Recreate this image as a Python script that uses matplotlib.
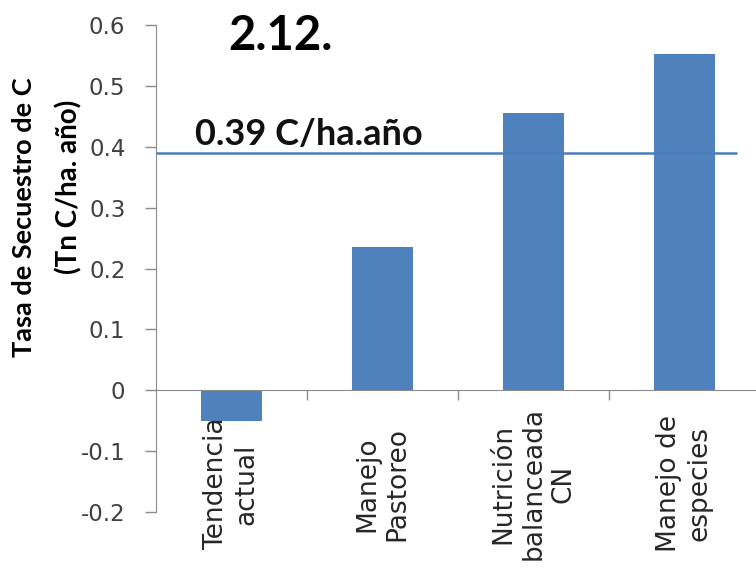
import matplotlib
matplotlib.use("Agg")
import matplotlib.pyplot as plt

# sequestration rate per management scenario (Tn C/ha. año)
categories = ["Tendencia\nactual", "Manejo\nPastoreo", "Nutrición\nbalanceada\nCN", "Manejo de\nespecies"]
values = [-0.05, 0.236, 0.456, 0.553]
benchmark = 0.39
yticks = [-0.2, -0.1, 0, 0.1, 0.2, 0.3, 0.4, 0.5, 0.6]
yticklabels = ["-0.2", "-0.1", "0", "0.1", "0.2", "0.3", "0.4", "0.5", "0.6"]

bar_color = "#4f81bd"
axis_gray = "#8c8c8c"

fig = plt.figure(figsize=(7.56, 5.70), dpi=100)
W, H = 756, 570
ax = fig.add_axes([156 / W, 1 - 512 / H, 600 / W, 487 / H])

x = list(range(len(categories)))
ax.bar(x, values, width=0.4, color=bar_color, zorder=2)

ax.set_xlim(-0.5, -0.5 + 600 / 151)
ax.set_ylim(-0.2, 0.6)

for side in ["top", "right"]:
    ax.spines[side].set_visible(False)
ax.spines["bottom"].set_position(("data", 0))
ax.spines["bottom"].set_color(axis_gray)
ax.spines["left"].set_color(axis_gray)

ax.set_yticks(yticks)
ax.set_yticklabels(yticklabels, fontfamily="DejaVu Sans")
ax.tick_params(axis="y", direction="out", length=8, width=1, color=axis_gray,
               pad=14, labelsize=16.5, labelcolor="#404040")

# category boundaries get the small ticks on the zero line
ax.set_xticks([0.5, 1.5, 2.5])
ax.set_xticklabels([])
ax.tick_params(axis="x", direction="out", length=7, width=1, color=axis_gray)

for i, name in enumerate(categories):
    ax.text(i, -0.154, name, rotation=90, ha="center", va="center",
            multialignment="center", fontsize=19, fontfamily="DejaVu Sans",
            color="#262626", linespacing=1.2)

# reference rate line with its label
ax.hlines(benchmark, -0.5, 3.35, color="#4a7ebb", lw=1.8, zorder=3)
ax.text(-0.242, benchmark + 0.003, f"{benchmark:.2f} C/ha.año", ha="left", va="bottom",
        fontsize=26, fontweight="bold", fontfamily="Lato", color="#111111", zorder=4)

fig.text(24 / W, 1 - 217 / H, "Tasa de Secuestro de C", rotation=90,
         ha="center", va="center", fontsize=19.5, fontweight="bold", fontfamily="Lato")
fig.text(69 / W, 1 - 187 / H, "(Tn C/ha. año)", rotation=90,
         ha="center", va="center", fontsize=20, fontweight="bold", fontfamily="Lato")

fig.text(280 / W, 1 - 36 / H, "2.12.", ha="center", va="center",
         fontsize=34, fontweight="bold", fontfamily="Lato")

fig.savefig("out.png", dpi=100)
